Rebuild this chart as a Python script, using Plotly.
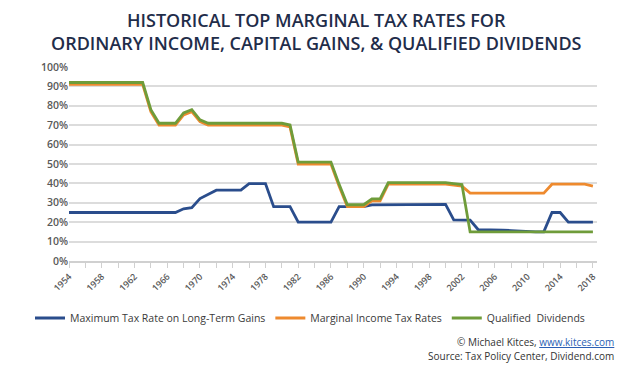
import plotly.graph_objects as go

years = list(range(1954, 2019))

cap_gains = [25, 25, 25, 25, 25, 25, 25, 25, 25, 25,          # 1954-1963
             25, 25, 25, 25, 26.9, 27.5, 32.2, 34.3, 36.5, 36.5,  # 1964-1973
             36.5, 36.5, 39.9, 39.9, 39.9, 28, 28, 28, 20, 20,    # 1974-1983
             20, 20, 20, 28, 28, 28, 28, 28.9, 28.9, 29.2,        # 1984-1993
             29.2, 29.2, 29.2, 29.2, 29.2, 29.2, 29.2, 21.2, 21.2, 21.1,  # 1994-2003
             16.1, 16.1, 16.0, 15.9, 15.7, 15.4, 15.1, 15, 15, 25,  # 2004-2013
             25, 20, 20, 20, 20]                                   # 2014-2018

income = [91, 91, 91, 91, 91, 91, 91, 91, 91, 91,             # 1954-1963
          77, 70, 70, 70, 75.3, 77, 71.8, 70, 70, 70,          # 1964-1973
          70, 70, 70, 70, 70, 70, 70, 69.1, 50, 50,            # 1974-1983
          50, 50, 50, 38.5, 28, 28, 28, 31, 31, 39.6,          # 1984-1993
          39.6, 39.6, 39.6, 39.6, 39.6, 39.6, 39.6, 39.1, 38.6, 35,  # 1994-2003
          35, 35, 35, 35, 35, 35, 35, 35, 35, 39.6,            # 2004-2013
          39.6, 39.6, 39.6, 39.6, 38.6]                        # 2014-2018

dividends = [92, 92, 92, 92, 92, 92, 92, 92, 92, 92,          # 1954-1963
             78, 71, 71, 71, 76.3, 78, 72.8, 71, 71, 71,       # 1964-1973
             71, 71, 71, 71, 71, 71, 71, 70.1, 51, 51,         # 1974-1983
             51, 51, 51, 39.5, 29, 29, 29, 32, 32, 40.4,       # 1984-1993
             40.4, 40.4, 40.4, 40.4, 40.4, 40.4, 40.4, 39.9, 39.4, 15,  # 1994-2003
             15, 15, 15, 15, 15, 15, 15, 15, 15, 15,           # 2004-2013
             15, 15, 15, 15, 15]                               # 2014-2018

series_names = ["Maximum Tax Rate on Long-Term Gains", "Marginal Income Tax Rates", "Qualified  Dividends"]
series_colors = ["#2a4d8c", "#ee8a2e", "#6f9c3a"]

title_lines = ["HISTORICAL TOP MARGINAL TAX RATES FOR",
               "ORDINARY INCOME, CAPITAL GAINS, & QUALIFIED DIVIDENDS"]

FONT = "Open Sans"
OFF = 8  # page body margin
W, H = 622, 359
ML, MR, MT, MB = 61, 33, 59, 106


def py(ref):
    return (H - MB - (ref - OFF)) / (H - MT - MB)


def px(ref):
    return (ref - OFF - ML) / (W - ML - MR)


fig = go.Figure()
for name, vals, col in zip(series_names, [cap_gains, income, dividends], series_colors):
    fig.add_trace(go.Scatter(x=years, y=vals, mode="lines", name=name,
                             line=dict(color=col, width=2.8)))

fig.update_layout(
    width=W, height=H,
    margin=dict(l=ML, r=MR, t=MT, b=MB, autoexpand=False),
    paper_bgcolor="white", plot_bgcolor="white",
    font=dict(family=FONT, color="#595959"),
    showlegend=True,
    legend=dict(orientation="h", x=px(30), xanchor="left",
                y=py(318), yanchor="middle",
                font=dict(size=10.5, color="#3a3a3a", family=FONT),
                itemwidth=30, tracegroupgap=0),
)

fig.update_xaxes(
    range=[1954, 2018.5], tickmode="linear", tick0=1954, dtick=4,
    tickangle=-45, showgrid=False, zeroline=False, automargin=False,
    showline=True, linecolor="#d0d0d0", linewidth=1.5,
    ticks="outside", ticklen=5, tickcolor="#d0d0d0",
    minor=dict(dtick=2, tick0=1954, ticks="outside", ticklen=5, tickcolor="#d0d0d0"),
    tickfont=dict(size=9, color="#595959", family=FONT, weight=600),
)
fig.update_yaxes(
    range=[0, 100], tickmode="linear", tick0=0, dtick=10, ticksuffix="%",
    showgrid=True, gridcolor="#dcdcdc", gridwidth=1.5, zeroline=False, automargin=False,
    showline=False, ticks="",
    tickfont=dict(size=10.5, color="#595959", family=FONT, weight=600),
)

fig.add_annotation(text="<br>".join(title_lines), xref="paper", yref="paper",
                   x=px(316), y=py(32), showarrow=False, xanchor="center", yanchor="middle",
                   align="center",
                   font=dict(size=18, color="#1f2d4a", family=FONT, weight=600))

fig.add_annotation(text='© Michael Kitces, <a href="https://www.kitces.com" style="color:#2b5fb4;text-decoration:underline">www.kitces.com</a>',
                   xref="paper", yref="paper", x=px(616), y=py(342),
                   showarrow=False, xanchor="right", yanchor="middle",
                   font=dict(size=10, color="#333333", family=FONT))
fig.add_annotation(text="Source: Tax Policy Center, Dividend.com",
                   xref="paper", yref="paper", x=px(616), y=py(356),
                   showarrow=False, xanchor="right", yanchor="middle",
                   font=dict(size=10, color="#333333", family=FONT))

fig.write_html("out.html")
